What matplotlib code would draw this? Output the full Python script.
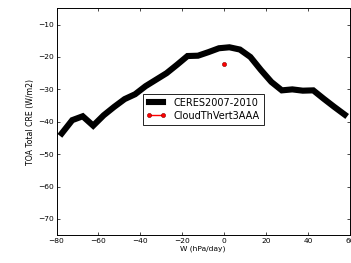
import numpy as np
import matplotlib
matplotlib.use('Agg')
from matplotlib import pyplot as plt

# omega bins (hPa/day) and CERES total CRE (W/m2)
w = [-77.5, -72.5, -67.5, -62.5, -57.5, -52.5, -47.5, -42.5, -37.5, -32.5,
     -27.5, -22.5, -17.5, -12.5, -7.5, -2.5, 2.5, 7.5, 12.5, 17.5,
     22.5, 27.5, 32.5, 37.5, 42.5, 47.5, 52.5, 57.5]
ceres = [-43.6, -39.5, -38.3, -41.2, -38.0, -35.4, -33.0, -31.5, -29.0, -27.0,
         -25.0, -22.4, -19.7, -19.6, -18.5, -17.3, -17.0, -17.7, -20.0, -24.0,
         -27.7, -30.3, -30.0, -30.4, -30.3, -32.9, -35.4, -37.8]
# model point
w_mod = [0.0]
cre_mod = [-22.2]

xticks = [-80, -60, -40, -20, 0, 20, 40, 60]
yticks = [-10, -20, -30, -40, -50, -60, -70]

fig = plt.figure(figsize=(3.51, 2.63), dpi=100)
ax = fig.add_axes([0.161, 0.106, 0.836, 0.862])

ax.plot(w, ceres, color='black', lw=4.4, solid_joinstyle='miter', label='CERES2007-2010')
ax.plot(w_mod, cre_mod, color='red', marker='o', ms=3, mec='#800000', mew=0.4,
        lw=1, label='CloudThVert3AAA')

ax.set_xlim(-80, 60)
ax.set_ylim(-75, -5)
ax.set_xticks(xticks)
ax.set_yticks(yticks)
ax.tick_params(direction='in', top=True, right=True, length=2.5, width=0.5,
               labelsize=5.4, pad=2)
for s in ax.spines.values():
    s.set_linewidth(0.7)
ax.set_xlabel('W (hPa/day)', fontsize=5.4, labelpad=1)
ax.set_ylabel('TOA Total CRE (W/m2)', fontsize=5.6, labelpad=2)

leg = ax.legend(loc='center', bbox_to_anchor=(0.5, 0.555), fontsize=7,
                fancybox=False, framealpha=1, edgecolor='black', numpoints=2,
                borderpad=0.4, labelspacing=0.3, handlelength=2, handletextpad=0.8)
leg.get_frame().set_linewidth(0.6)

fig.savefig('out.png', dpi=100)
